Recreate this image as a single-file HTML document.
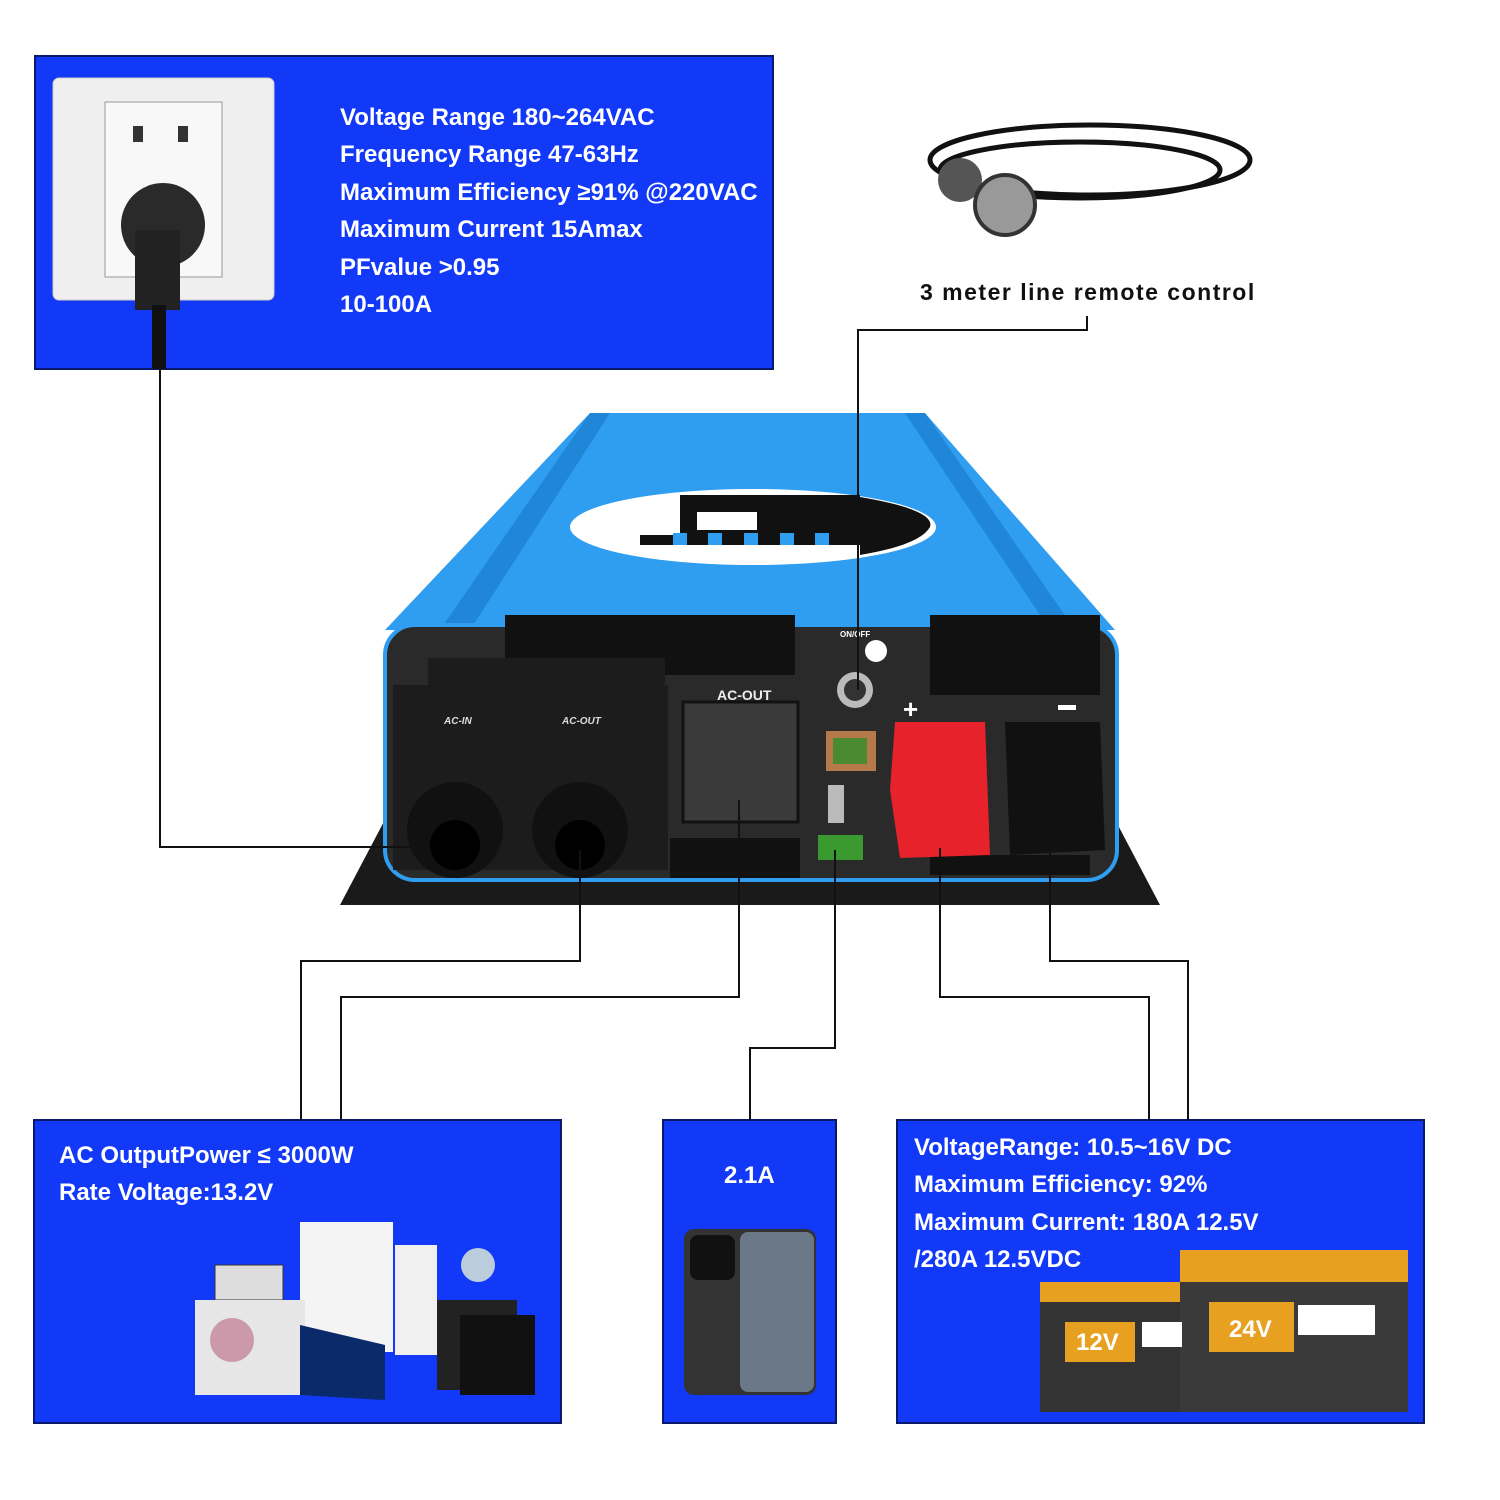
<!DOCTYPE html>
<html><head><style>
body{margin:0;background:#fff;width:1500px;height:1500px;overflow:hidden}
svg{display:block}
text{font-family:"Liberation Sans",sans-serif;font-weight:bold}
</style></head><body>
<svg width="1500" height="1500" viewBox="0 0 1500 1500" xmlns="http://www.w3.org/2000/svg">
<g fill="#1239f7" stroke="#0a1a6a" stroke-width="2">
<rect x="35" y="56" width="738" height="313"/>
<rect x="34" y="1120" width="527" height="303"/>
<rect x="663" y="1120" width="173" height="303"/>
<rect x="897" y="1120" width="527" height="303"/>
</g>
<rect x="53" y="78" width="221" height="222" rx="6" fill="#efefef" stroke="#ccc"/>
<rect x="105" y="102" width="117" height="175" fill="#f8f8f8" stroke="#999"/>
<rect x="133" y="126" width="10" height="16" fill="#333"/><rect x="178" y="126" width="10" height="16" fill="#333"/>
<circle cx="163" cy="225" r="42" fill="#2a2a2a"/>
<rect x="135" y="230" width="45" height="80" fill="#222"/>
<rect x="152" y="305" width="14" height="64" fill="#111"/>
<g fill="#fff" font-size="24">
<text x="340" y="125">Voltage Range 180~264VAC</text>
<text x="340" y="162">Frequency Range 47-63Hz</text>
<text x="340" y="200">Maximum Efficiency ≥91% @220VAC</text>
<text x="340" y="237">Maximum Current 15Amax</text>
<text x="340" y="275">PFvalue &gt;0.95</text>
<text x="340" y="312">10-100A</text>
</g>
<g fill="none" stroke="#111" stroke-width="5">
<ellipse cx="1090" cy="160" rx="160" ry="35"/>
<ellipse cx="1080" cy="170" rx="140" ry="28"/>
</g>
<circle cx="960" cy="180" r="22" fill="#555"/><circle cx="1005" cy="205" r="30" fill="#999" stroke="#333" stroke-width="4"/>
<text x="920" y="300" font-size="23" fill="#111" letter-spacing="1.5">3 meter line remote control</text>
<path d="M340 905 L390 810 L1110 810 L1160 905 Z" fill="#1a1a1a"/>
<path d="M590 413 L925 413 L1115 630 L385 630 Z" fill="#2f9df0"/>
<path d="M590 413 L610 413 L470 630 L440 630 Z" fill="#1f86d8"/>
<path d="M905 413 L925 413 L1075 630 L1050 630 Z" fill="#1f86d8"/>
<ellipse cx="753" cy="527" rx="183" ry="38" fill="#fff"/>
<path d="M680 495 L860 495 L860 545 L680 545 Z" fill="#111"/>
<rect x="697" y="512" width="60" height="18" fill="#fff"/>
<path d="M860 497 Q936 510 930 527 Q920 545 860 555 Z" fill="#111"/>
<rect x="640" y="535" width="220" height="10" fill="#111"/>
<g fill="#2f9df0"><rect x="673" y="533" width="14" height="12"/><rect x="708" y="533" width="14" height="12"/><rect x="744" y="533" width="14" height="12"/><rect x="780" y="533" width="14" height="12"/><rect x="815" y="533" width="14" height="12"/></g>
<rect x="385" y="625" width="732" height="255" rx="30" fill="#2a2a2a" stroke="#2f9df0" stroke-width="4"/>
<g fill="#111">
<rect x="505" y="615" width="290" height="60"/><rect x="930" y="615" width="170" height="80"/>
<rect x="670" y="838" width="130" height="40"/><rect x="930" y="855" width="160" height="20"/>
</g>
<rect x="428" y="658" width="237" height="40" fill="#1c1c1c"/>
<rect x="393" y="685" width="275" height="185" fill="#1c1c1c"/>
<text x="444" y="724" font-size="10" fill="#ddd" font-style="italic">AC-IN</text>
<text x="562" y="724" font-size="10" fill="#ddd" font-style="italic">AC-OUT</text>
<circle cx="455" cy="830" r="48" fill="#111"/><circle cx="455" cy="845" r="25" fill="#000"/>
<circle cx="580" cy="830" r="48" fill="#111"/><circle cx="580" cy="845" r="25" fill="#000"/>
<rect x="683" y="702" width="115" height="120" fill="#3a3a3a" stroke="#111" stroke-width="3"/>
<text x="717" y="700" font-size="14" fill="#eee" font-weight="normal">AC-OUT</text>
<circle cx="855" cy="690" r="18" fill="#bbb"/><circle cx="855" cy="690" r="11" fill="#333"/>
<circle cx="876" cy="651" r="11" fill="#fff"/>
<text x="840" y="637" font-size="8" fill="#fff" font-weight="normal">ON/OFF</text>
<rect x="826" y="731" width="50" height="40" fill="#b67a4a"/><rect x="833" y="738" width="34" height="26" fill="#4a8a30"/>
<rect x="828" y="785" width="16" height="38" fill="#bbb"/>
<rect x="818" y="835" width="45" height="25" fill="#3a9a30"/>
<path d="M895 722 L985 722 L990 855 L900 858 L890 790 Z" fill="#e8222a"/>
<path d="M1005 722 L1100 722 L1105 850 L1010 855 Z" fill="#111"/>
<text x="903" y="718" font-size="26" fill="#fff">+</text>
<rect x="1058" y="705" width="18" height="5" fill="#fff"/>
<g fill="none" stroke="#111" stroke-width="2">
<path d="M160 369 V847 H430"/>
<path d="M1087 316 V330 H858 V690"/>
<path d="M580 850 V961 H301 V1120"/>
<path d="M739 800 V997 H341 V1120"/>
<path d="M835 850 V1048 H750 V1120"/>
<path d="M940 848 V997 H1149 V1120"/>
<path d="M1050 848 V961 H1188 V1120"/>
</g>
<g fill="#fff" font-size="24">
<text x="59" y="1163">AC OutputPower ≤ 3000W</text>
<text x="59" y="1200">Rate Voltage:13.2V</text>
<text x="724" y="1183">2.1A</text>
<text x="914" y="1155">VoltageRange: 10.5~16V DC</text>
<text x="914" y="1192">Maximum Efficiency: 92%</text>
<text x="914" y="1230">Maximum Current: 180A 12.5V</text>
<text x="914" y="1267">/280A 12.5VDC</text>
</g>
<rect x="300" y="1222" width="93" height="130" fill="#f4f4f4"/>
<rect x="215" y="1265" width="68" height="35" fill="#ddd" stroke="#333"/>
<rect x="195" y="1300" width="110" height="95" fill="#e6e6e6"/>
<circle cx="232" cy="1340" r="22" fill="#c9a"/>
<rect x="395" y="1245" width="42" height="110" fill="#f0f0f0"/>
<path d="M300 1325 L385 1345 L385 1400 L300 1395 Z" fill="#0a2a6a"/>
<rect x="437" y="1300" width="80" height="90" fill="#222"/>
<rect x="460" y="1315" width="75" height="80" fill="#111"/>
<circle cx="478" cy="1265" r="17" fill="#bcd"/>
<rect x="684" y="1229" width="132" height="166" rx="10" fill="#333"/>
<rect x="740" y="1232" width="74" height="160" rx="8" fill="#6a7888"/>
<rect x="690" y="1235" width="45" height="45" rx="8" fill="#111"/>
<rect x="1040" y="1282" width="160" height="130" fill="#333"/>
<rect x="1040" y="1282" width="160" height="20" fill="#e8a020"/>
<rect x="1065" y="1322" width="70" height="40" fill="#e8a020"/>
<text x="1076" y="1350" font-size="24" fill="#fff">12V</text>
<rect x="1180" y="1250" width="228" height="162" fill="#3a3a3a"/>
<rect x="1180" y="1250" width="228" height="32" fill="#e8a020"/>
<rect x="1209" y="1302" width="85" height="50" fill="#e8a020"/>
<text x="1229" y="1337" font-size="24" fill="#fff">24V</text>
<rect x="1298" y="1305" width="77" height="30" fill="#fff"/>
<rect x="1142" y="1322" width="40" height="25" fill="#fff"/>
</svg>
</body></html>
